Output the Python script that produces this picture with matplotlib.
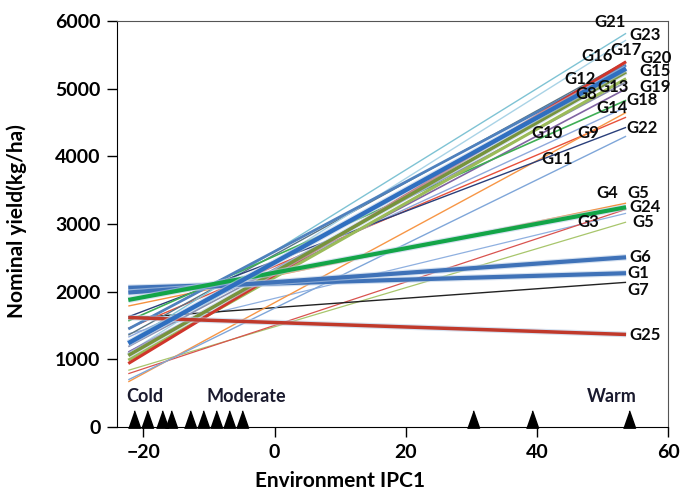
import matplotlib
matplotlib.use('Agg')
import matplotlib.pyplot as plt
import matplotlib.patheffects as pe

# environment scores (IPC1) of the trial sites
env_ipc1 = [-21.4, -19.5, -17.2, -15.8, -12.9, -10.9, -9.0, -7.0, -4.9, 30.2, 39.3, 54.0]
env_range = [-22.3, 53.6]

# fitted nominal yield (kg/ha) at the coldest and warmest environment
genotypes = ['G1', 'G2', 'G3', 'G4', 'G5', 'G6', 'G7', 'G8', 'G9', 'G10', 'G11', 'G12', 'G13',
             'G14', 'G15', 'G16', 'G17', 'G18', 'G19', 'G20', 'G21', 'G22', 'G23', 'G24', 'G25']
yield_cold = [2060, 840, 1380, 1790, 790, 1990, 1610, 1110, 1460, 670, 700, 1060, 990,
              1330, 1240, 1450, 1360, 1570, 1190, 940, 1260, 1630, 1100, 1880, 1620]
yield_warm = [2275, 3030, 3160, 3310, 3220, 2510, 2140, 5000, 4580, 4650, 4300, 5250, 5150,
              4730, 5300, 5350, 5400, 4830, 5100, 5400, 5820, 4430, 5720, 3250, 1370]

# labels as printed at the right end (G2 is printed as a second "G5")
label_text = ['G1', 'G5', 'G3', 'G4', 'G5', 'G6', 'G7', 'G8', 'G9', 'G10', 'G11', 'G12', 'G13',
              'G14', 'G15', 'G16', 'G17', 'G18', 'G19', 'G20', 'G21', 'G22', 'G23', 'G24', 'G25']
label_x = [55.4, 56.2, 47.8, 50.8, 55.4, 55.7, 55.4, 47.6, 47.8, 41.5, 43.1, 46.6, 51.6,
           51.4, 58.0, 49.2, 53.6, 56.0, 58.0, 58.2, 51.1, 56.0, 56.5, 56.5, 56.5]
label_y = [2275, 3030, 3030, 3460, 3460, 2510, 2020, 4920, 4340, 4340, 3960, 5150, 5020,
           4720, 5260, 5490, 5580, 4830, 5020, 5450, 5980, 4420, 5790, 3250, 1360]

line_color = ['#3f72b8', '#a8c66c', '#8fb0e0', '#f5913e', '#d9534f', '#3f72b8', '#222222',
              '#8064a2', '#e8503a', '#f79646', '#7fa6d9', '#77933c', '#9bbb59', '#8ea9db',
              '#2f6fc0', '#4f81bd', '#5b7585', '#3fae55', '#8a8fae', '#d0352b', '#7fc3d4',
              '#2a3f7a', '#a9d3e6', '#13a548', '#c0392b']
line_width = [3.0, 0.9, 0.9, 1.0, 0.9, 3.0, 1.0, 1.2, 1.0, 1.0, 1.0, 2.5, 2.2, 1.0, 3.2,
              2.0, 1.0, 1.2, 1.2, 2.2, 1.0, 1.0, 1.0, 3.0, 2.5]

fnt = ['Lato', 'DejaVu Sans']
plt.rcParams['font.family'] = fnt

fig = plt.figure(figsize=(6.81, 4.91), dpi=100)
ax = fig.add_axes([0.172, 0.130, 0.809, 0.827])

# draw thin lines first, thick ones on top
order = sorted(range(len(genotypes)), key=lambda i: line_width[i])
for i in order:
    effects = None
    if line_width[i] >= 2.5:
        effects = [pe.Stroke(linewidth=line_width[i] + 1.6, foreground='#b9cde6', alpha=0.6),
                   pe.Normal()]
    ax.plot(env_range, [yield_cold[i], yield_warm[i]], color=line_color[i],
            lw=line_width[i], solid_capstyle='butt', path_effects=effects)

for t, x, y in zip(label_text, label_x, label_y):
    ax.text(x, y, t, ha='center', va='center', fontsize=12, fontweight='bold',
            color='#0a0a0a')

tri = [(-0.7, -1), (0.7, -1), (0, 1)]
ax.plot(env_ipc1, [125] * len(env_ipc1), marker=tri, ls='none', color='black',
        ms=12.5, clip_on=False)
ax.text(-22.6, 460, 'Cold', ha='left', va='center', fontsize=13, fontweight='bold',
        color='#1a1a2e')
ax.text(-10.4, 460, 'Moderate', ha='left', va='center', fontsize=13, fontweight='bold',
        color='#1a1a2e')
ax.text(47.6, 460, 'Warm', ha='left', va='center', fontsize=13, fontweight='bold',
        color='#1a1a2e')

ax.set_xlim(-24, 60)
ax.set_ylim(0, 6000)
ax.set_xticks([-20, 0, 20, 40, 60])
ax.set_yticks(range(0, 6001, 1000))
ax.tick_params(direction='out', length=7, width=1, labelsize=14, pad=5)
for lbl in ax.get_xticklabels() + ax.get_yticklabels():
    lbl.set_fontweight('bold')
for s in ['top', 'right']:
    ax.spines[s].set_color('#555555')

fig.text(340 / 681, 1 - 481 / 491, 'Environment IPC1', ha='center', va='center',
         fontsize=15, fontweight='bold')
fig.text(17 / 681, 1 - 221 / 491, 'Nominal yield(kg/ha)', ha='center', va='center',
         rotation=90, fontsize=15, fontweight='bold')

fig.savefig('out.png', dpi=100)
